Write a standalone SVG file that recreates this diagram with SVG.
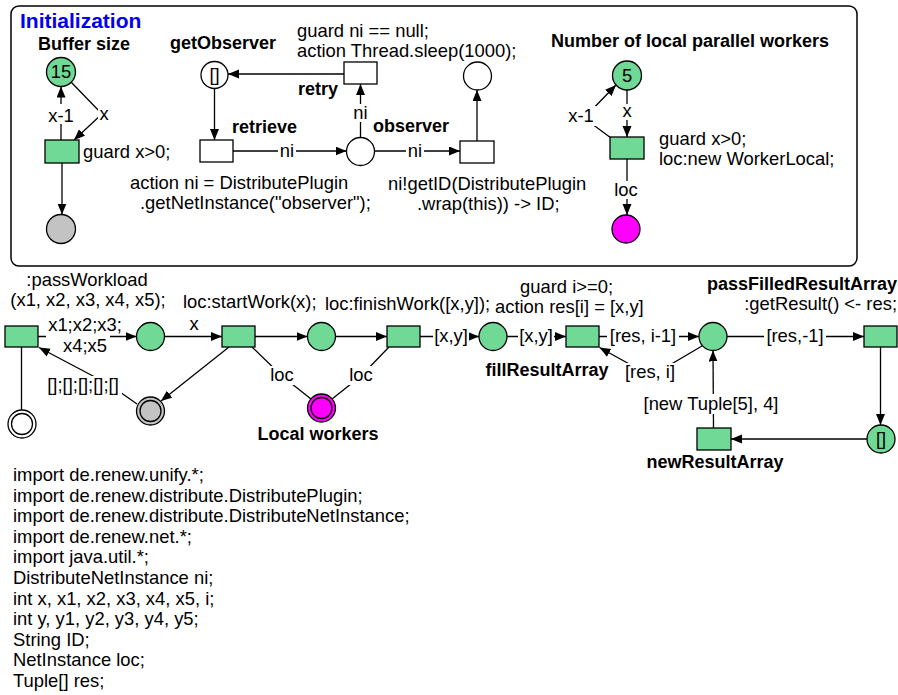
<svg xmlns="http://www.w3.org/2000/svg" width="898" height="695" viewBox="0 0 898 695">
  <style>
    text { font-family: "Liberation Sans", Arial, sans-serif; font-size: 18.4px; fill: #000; }
    .b { font-weight: bold; font-size: 18px; }
    .m { text-anchor: middle; }
    .e { text-anchor: end; }
    .title { font-weight: bold; font-size: 21px; fill: #0000ee; }
    .pl { stroke: #000; stroke-width: 1.3; fill: #fff; }
    .tr { stroke: #000; stroke-width: 1.3; fill: #fff; }
    .g { fill: #70d995; }
    .gr { fill: #c3c3c3; }
    .mg { fill: #ff00ff; }
    .arc { stroke: #000; stroke-width: 1.3; fill: none; }
    .ah { marker-end: url(#arrow); }
    .lb { fill: #fff; }
    .frame { fill: #fff; stroke: #000; stroke-width: 1.5; }
  </style>
  <defs>
    <marker id="arrow" markerUnits="userSpaceOnUse" markerWidth="12" markerHeight="10" refX="11" refY="4.5" orient="auto">
      <path d="M0,0 L11,4.5 L0,9 z" fill="#000"/>
    </marker>
  </defs>
  <rect width="898" height="695" fill="#fff"/>

  <!-- initialization frame -->
  <rect class="frame" x="11" y="6" width="846" height="260" rx="8"/>
  <text class="title" x="20" y="28">Initialization</text>

  <!-- connectors -->
  <g id="connectors">
    <!-- buffer size -->
    <line class="arc ah" x1="61" y1="140" x2="61" y2="86.5"/>
    <polyline class="arc ah" points="71,82 102,114 74,140"/>
    <line class="arc ah" x1="62" y1="163" x2="62" y2="214.5"/>
    <!-- observer lookup -->
    <line class="arc ah" x1="344" y1="74" x2="228" y2="74"/>
    <line class="arc ah" x1="214.5" y1="88.5" x2="214.5" y2="140"/>
    <line class="arc ah" x1="360.5" y1="137.5" x2="360.5" y2="84"/>
    <line class="arc ah" x1="233" y1="151" x2="346.5" y2="151"/>
    <line class="arc ah" x1="374.5" y1="151" x2="460" y2="151"/>
    <line class="arc ah" x1="477" y1="141" x2="477" y2="90"/>
    <!-- local workers -->
    <line class="arc ah" x1="627" y1="90" x2="627" y2="137"/>
    <polyline class="arc ah" points="611,138 584,118 616,85"/>
    <line class="arc ah" x1="627" y1="159" x2="627" y2="215"/>
    <!-- main net -->
    <line class="arc ah" x1="38" y1="336.5" x2="136.5" y2="336.5"/>
    <line class="arc ah" x1="164.5" y1="336.5" x2="222" y2="336.5"/>
    <line class="arc ah" x1="229" y1="347" x2="161" y2="401"/>
    <polyline class="arc ah" points="137,404 110,385 39,347.5"/>
    <line class="arc" x1="21.5" y1="347" x2="21.5" y2="410"/>
    <polyline class="arc" points="252,347 282,376 311,399"/>
    <polyline class="arc" points="389,347 361,376 332,399"/>
    <line class="arc ah" x1="255" y1="336.5" x2="307.5" y2="336.5"/>
    <line class="arc ah" x1="335.5" y1="336.5" x2="387" y2="336.5"/>
    <line class="arc ah" x1="420" y1="336.5" x2="479" y2="336.5"/>
    <line class="arc ah" x1="507" y1="336.5" x2="566" y2="336.5"/>
    <line class="arc ah" x1="599" y1="336.5" x2="699" y2="336.5"/>
    <polyline class="arc ah" points="702,346 651,376 599.5,347.5"/>
    <line class="arc ah" x1="727" y1="336.5" x2="864" y2="336.5"/>
    <line class="arc ah" x1="880.5" y1="347" x2="880.5" y2="425"/>
    <line class="arc ah" x1="867" y1="439" x2="731" y2="439"/>
    <line class="arc ah" x1="713.5" y1="428" x2="713" y2="350.5"/>

    <!-- inscriptions on arcs -->
    <rect class="lb" x="47" y="104" width="29" height="20"/>
    <text class="m" x="61" y="122">x-1</text>
    <rect class="lb" x="98" y="106" width="12" height="16"/>
    <text class="m" x="104" y="120">x</text>
    <rect class="lb" x="278" y="142" width="18" height="18"/>
    <text class="m" x="287" y="157">ni</text>
    <rect class="lb" x="406" y="142" width="18" height="18"/>
    <text class="m" x="415" y="157">ni</text>
    <rect class="lb" x="352" y="104" width="18" height="18"/>
    <text class="m" x="360.5" y="119">ni</text>
    <rect class="lb" x="621" y="104" width="12" height="16"/>
    <text class="m" x="627" y="117">x</text>
    <rect class="lb" x="567" y="106" width="29" height="20"/>
    <text class="m" x="581" y="122">x-1</text>
    <rect class="lb" x="613" y="181" width="27" height="18"/>
    <text class="m" x="626" y="196">loc</text>

    <rect class="lb" x="46" y="330" width="64" height="10"/>
    <text class="m" x="85" y="331">x1;x2;x3;</text>
    <text class="m" x="85" y="352">x4;x5</text>
    <text class="m" x="194" y="330">x</text>
    <rect class="lb" x="46" y="376" width="76" height="19"/>
    <text class="m" x="83" y="391">[];[];[];[];[]</text>
    <rect class="lb" x="269" y="366" width="27" height="19"/>
    <text class="m" x="282" y="381">loc</text>
    <rect class="lb" x="348" y="366" width="27" height="19"/>
    <text class="m" x="361" y="381">loc</text>
    <rect class="lb" x="433" y="327" width="36" height="18"/>
    <text class="m" x="451" y="342">[x,y]</text>
    <rect class="lb" x="518" y="327" width="36" height="18"/>
    <text class="m" x="536" y="342">[x,y]</text>
    <rect class="lb" x="607" y="327" width="72" height="18"/>
    <text class="m" x="643" y="342">[res, i-1]</text>
    <rect class="lb" x="622" y="363" width="56" height="19"/>
    <text class="m" x="650" y="378">[res, i]</text>
    <rect class="lb" x="764" y="327" width="62" height="18"/>
    <text class="m" x="795" y="342">[res,-1]</text>
    <rect class="lb" x="643" y="394" width="136" height="20"/>
    <text class="m" x="711" y="410">[new Tuple[5], 4]</text>
  </g>

  <!-- buffer size -->
  <g id="buffer-size">
    <text class="b m" x="84" y="50">Buffer size</text>
    <circle class="pl g" cx="61" cy="72" r="14.5"/>
    <text class="m" x="61" y="78">15</text>
  </g>
  <g id="buffer-take">
    <rect class="tr g" x="45" y="140" width="34" height="23"/>
    <text x="83" y="158">guard x&gt;0;</text>
  </g>
  <g id="buffer-slots">
    <circle class="pl gr" cx="61" cy="229" r="14.5"/>
  </g>

  <!-- observer lookup -->
  <g id="getObserver">
    <text class="b m" x="223" y="49">getObserver</text>
    <circle class="pl" cx="214.5" cy="75" r="13.5"/>
    <text class="m" x="214.5" y="81">[]</text>
  </g>
  <g id="retry">
    <rect class="tr" x="344" y="62" width="33" height="22"/>
    <text class="b" x="298" y="95">retry</text>
    <text x="297" y="37">guard ni == null;</text>
    <text x="297" y="57">action Thread.sleep(1000);</text>
  </g>
  <g id="retrieve">
    <rect class="tr" x="200" y="140" width="33" height="22"/>
    <text class="b" x="232" y="133">retrieve</text>
    <text x="130" y="189">action ni = DistributePlugin</text>
    <text x="140" y="209">.getNetInstance("observer");</text>
  </g>
  <g id="observer">
    <circle class="pl" cx="360.5" cy="151.5" r="14"/>
    <text class="b" x="373" y="132">observer</text>
  </g>
  <g id="getID">
    <rect class="tr" x="460" y="141" width="34" height="22"/>
    <text x="388" y="190">ni!getID(DistributePlugin</text>
    <text x="417" y="210">.wrap(this)) -&gt; ID;</text>
  </g>
  <g id="ID">
    <circle class="pl" cx="477.5" cy="76" r="14"/>
  </g>

  <!-- local workers -->
  <g id="worker-count">
    <text class="b m" x="690" y="47">Number of local parallel workers</text>
    <circle class="pl g" cx="627" cy="75.5" r="14.5"/>
    <text class="m" x="627" y="82">5</text>
  </g>
  <g id="worker-create">
    <rect class="tr g" x="610" y="137" width="34" height="22"/>
    <text x="659" y="145">guard x&gt;0;</text>
    <text x="659" y="165">loc:new WorkerLocal;</text>
  </g>
  <g id="worker-pool">
    <circle class="pl mg" cx="626" cy="229" r="14"/>
  </g>

  <!-- main net -->
  <g id="passWorkload">
    <rect class="tr g" x="5" y="326" width="33" height="21"/>
    <text class="m" x="87" y="286">:passWorkload</text>
    <text class="m" x="88" y="306">(x1, x2, x3, x4, x5);</text>
  </g>
  <g id="workload-done">
    <circle class="pl" cx="22" cy="424" r="14"/>
    <circle class="pl" cx="22" cy="424" r="10.5"/>
  </g>
  <g id="workload">
    <circle class="pl g" cx="150.5" cy="336.5" r="14"/>
  </g>
  <g id="buffer">
    <circle class="pl gr" cx="150.5" cy="411" r="14"/>
    <circle class="pl gr" cx="150.5" cy="411" r="10.5"/>
  </g>
  <g id="startWork">
    <rect class="tr g" x="222" y="326" width="33" height="21"/>
    <text x="183" y="308">loc:startWork(x);</text>
  </g>
  <g id="working">
    <circle class="pl g" cx="321.5" cy="336.5" r="14"/>
  </g>
  <g id="local-workers">
    <circle class="pl mg" cx="321.5" cy="408" r="14"/>
    <circle class="pl mg" cx="321.5" cy="408" r="10.5"/>
    <text class="b m" x="318" y="440">Local workers</text>
  </g>
  <g id="finishWork">
    <rect class="tr g" x="387" y="326" width="33" height="21"/>
    <text x="325" y="310">loc:finishWork([x,y]);</text>
  </g>
  <g id="results">
    <circle class="pl g" cx="493" cy="336.5" r="14"/>
  </g>
  <g id="fillResultArray">
    <rect class="tr g" x="566" y="326" width="33" height="21"/>
    <text class="b m" x="547" y="376">fillResultArray</text>
    <text x="520" y="293">guard i&gt;=0;</text>
    <text x="495" y="313">action res[i] = [x,y]</text>
  </g>
  <g id="result-array">
    <circle class="pl g" cx="713" cy="336.5" r="14"/>
  </g>
  <g id="passFilledResultArray">
    <rect class="tr g" x="864" y="326" width="33" height="21"/>
    <text class="b e" x="897" y="290">passFilledResultArray</text>
    <text class="e" x="897" y="310">:getResult() &lt;- res;</text>
  </g>
  <g id="array-slot">
    <circle class="pl g" cx="881" cy="439" r="14"/>
    <text class="m" x="881" y="445">[]</text>
  </g>
  <g id="newResultArray">
    <rect class="tr g" x="697" y="428" width="34" height="22"/>
    <text class="b m" x="715" y="468">newResultArray</text>
  </g>

  <!-- declarations -->
  <g id="declarations">
    <text x="13" y="481">import de.renew.unify.*;</text>
    <text x="13" y="501.6">import de.renew.distribute.DistributePlugin;</text>
    <text x="13" y="522.2">import de.renew.distribute.DistributeNetInstance;</text>
    <text x="13" y="542.8">import de.renew.net.*;</text>
    <text x="13" y="563.4">import java.util.*;</text>
    <text x="13" y="584">DistributeNetInstance ni;</text>
    <text x="13" y="604.6">int x, x1, x2, x3, x4, x5, i;</text>
    <text x="13" y="625.2">int y, y1, y2, y3, y4, y5;</text>
    <text x="13" y="645.8">String ID;</text>
    <text x="13" y="666.4">NetInstance loc;</text>
    <text x="13" y="687">Tuple[] res;</text>
  </g>
</svg>
